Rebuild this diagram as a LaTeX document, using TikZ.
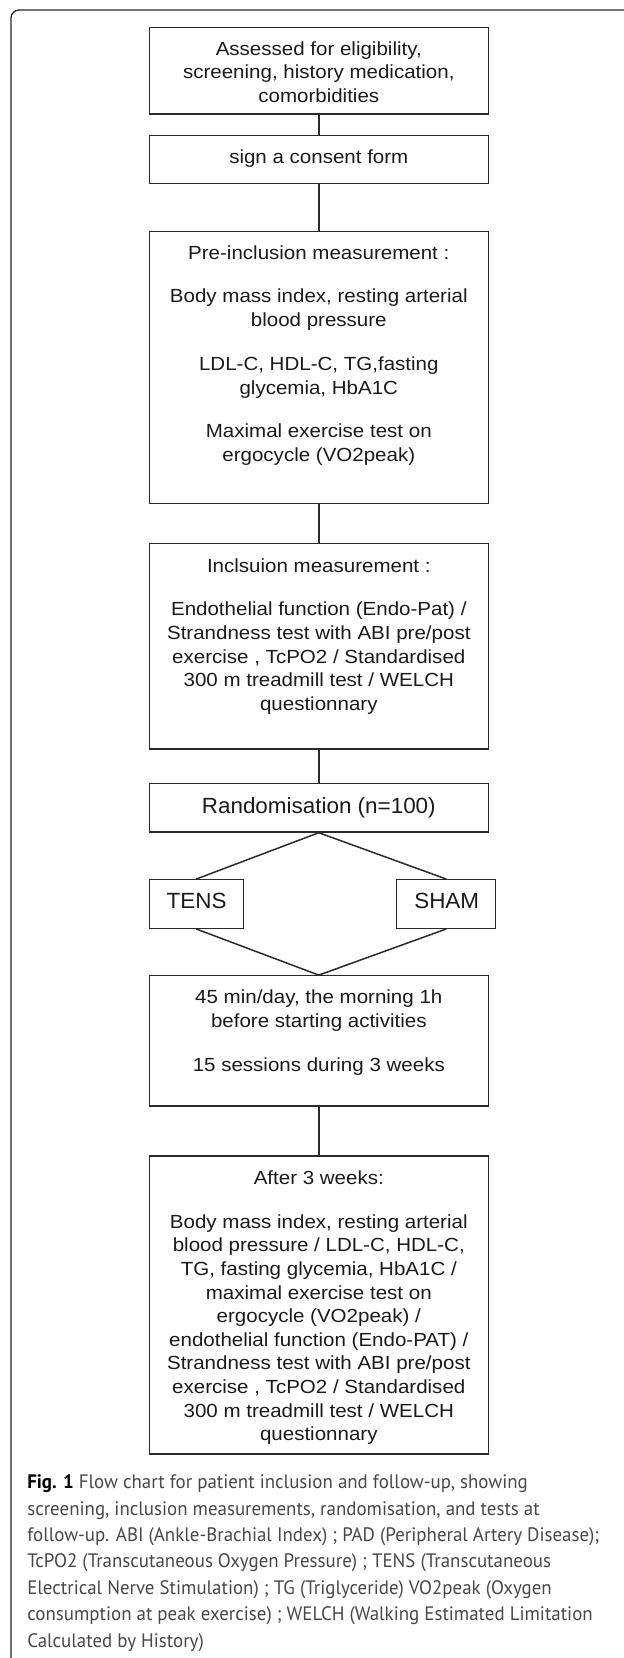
\documentclass[tikz,border=0pt]{standalone}
\usepackage{fontspec}
\setmainfont{Liberation Sans}
\newfontfamily\boxfont[FakeStretch=1.08]{Liberation Sans}
\newfontfamily\bigfont[FakeStretch=1.02]{Liberation Sans}
\newfontfamily\capfont[FakeStretch=0.97]{PT Sans}
\definecolor{boxcol}{HTML}{2A2A2A}
\definecolor{textcol}{HTML}{1A1A1A}
\definecolor{capcol}{HTML}{474747}
\newcommand\mystrut{\rule{0pt}{16pt}}
\newcommand\capstrut{\rule{0pt}{20pt}}
\tikzset{
  box/.style={draw=boxcol, line width=1.3pt, minimum width=339.1pt, inner sep=0pt},
  smallbox/.style={draw=boxcol, line width=1.3pt, inner sep=0pt},
  txt/.style={font=\boxfont\fontsize{19}{23.6}\selectfont, align=center, inner sep=0pt, text=textcol},
  bigtxt/.style={font=\bigfont\fontsize{22}{26}\selectfont, inner sep=0pt, text=textcol},
  conn/.style={draw=boxcol, line width=1.5pt},
  frame/.style={draw=boxcol, line width=1.3pt, rounded corners=8pt}
}
\begin{document}
\begin{tikzpicture}[x=1pt, y=-1pt]
\useasboundingbox (0,0) rectangle (624,1658);
\draw[frame] (11,1662) -- (11,10) -- (630,10);

% boxes
\node[box, minimum height=86.3pt] (b1) at (318.8,70.9) {};
\node[box, minimum height=47.6pt] (b2) at (318.8,159.5) {};
\node[box, minimum height=271.6pt] (b3) at (318.8,367.5) {};
\node[box, minimum height=205.7pt] (b4) at (318.8,646.2) {};
\node[box, minimum height=48.3pt] (b5) at (318.8,807.9) {};
\node[smallbox, minimum width=93.9pt, minimum height=48.6pt] (tens) at (196.2,904) {};
\node[smallbox, minimum width=99pt, minimum height=48.6pt] (sham) at (446.3,904) {};
\node[box, minimum height=130.3pt] (b6) at (318.8,1040.9) {};
\node[box, minimum height=298pt] (b7) at (318.8,1305) {};

% texts
\node[txt, anchor=north] (t1) at (318.8,39.1) {\mystrut Assessed for eligibility,\\ screening, history medication,\\ comorbidities};
\node[txt, anchor=base] (t2) at (318.8,163.5) {sign a consent form};
\node[txt, anchor=north] (t3) at (318.8,242.8) {\mystrut Pre-inclusion measurement :\\[20.3pt]
Body mass index, resting arterial\\ blood pressure\\[20.3pt]
LDL-C, HDL-C, TG,fasting\\ glycemia, HbA1C\\[20.3pt]
Maximal exercise test on\\ ergocycle (VO2peak)};
\node[txt, anchor=north] (t4) at (318.8,555.8) {\mystrut Inclsuion measurement :\\[20.3pt]
Endothelial function (Endo-Pat) /\\ Strandness test with ABI pre/post\\ exercise , TcPO2 / Standardised\\ 300 m treadmill test / WELCH\\ questionnary};
\node[bigtxt, anchor=base] (t5) at (318.8,813.6) {Randomisation (n=100)};
\node[bigtxt, anchor=base] (ttens) at (196.6,908.3) {TENS};
\node[bigtxt, anchor=base] (tsham) at (446.7,908.3) {SHAM};
\node[txt, anchor=north] (t6) at (318.8,987.5) {\mystrut 45 min/day, the morning 1h\\ before starting activities\\[20.3pt]
15 sessions during 3 weeks};
\node[txt, anchor=north] (t7) at (318.8,1168.1) {\mystrut After 3 weeks:\\[20.3pt]
Body mass index, resting arterial\\ blood pressure / LDL-C, HDL-C,\\ TG, fasting glycemia, HbA1C /\\ maximal exercise test on\\ ergocycle (VO2peak) /\\ endothelial function (Endo-PAT) /\\ Strandness test with ABI pre/post\\ exercise , TcPO2 / Standardised\\ 300 m treadmill test / WELCH\\ questionnary};

% connectors
\draw[conn] (b1.south) -- (b2.north);
\draw[conn] (b2.south) -- (b3.north);
\draw[conn] (b3.south) -- (b4.north);
\draw[conn] (b4.south) -- (b5.north);
\draw[conn] (b5.south) -- (tens.north);
\draw[conn] (b5.south) -- (sham.north);
\draw[conn] (tens.south) -- (b6.north);
\draw[conn] (sham.south) -- (b6.north);
\draw[conn] (b6.south) -- (b7.north);

% caption
\node[anchor=north west, align=left, inner sep=0pt, font=\capfont\fontsize{19.5}{26.4}\selectfont, text=capcol] (cap) at (27.1,1468.5) {\capstrut\textcolor{black}{\bfseries Fig. 1} Flow chart for patient inclusion and follow-up, showing\\
screening, inclusion measurements, randomisation, and tests at\\
follow-up. ABI (Ankle-Brachial Index) ; PAD (Peripheral Artery Disease);\\
TcPO2 (Transcutaneous Oxygen Pressure) ; TENS (Transcutaneous\\
Electrical Nerve Stimulation) ; TG (Triglyceride) VO2peak (Oxygen\\
consumption at peak exercise) ; WELCH (Walking Estimated Limitation\\
Calculated by History)};
\end{tikzpicture}
\end{document}
